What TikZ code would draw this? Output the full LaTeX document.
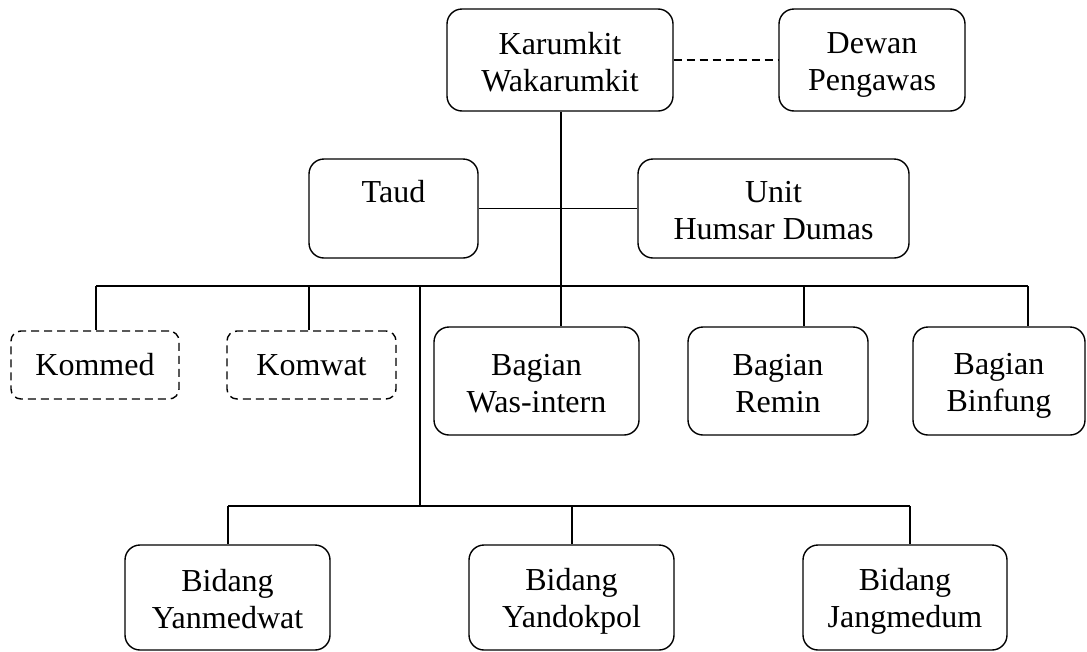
\documentclass[tikz,border=0pt]{standalone}
\usepackage{fontspec}
\setmainfont{Liberation Serif}
\usetikzlibrary{calc}
\newcommand\lnstrut{\rule[-5pt]{0pt}{35pt}}
\tikzset{
  box/.style={draw, fill=white, rounded corners=15pt, line width=1.4pt, inner sep=0pt,
    align=center, font=\fontsize{32}{37}\selectfont},
  dbox/.style={box, rounded corners=10pt, dash pattern=on 8pt off 5pt},
  conn/.style={line width=1.4pt},
  dconn/.style={line width=1.4pt, dash pattern=on 8pt off 5pt}
}
\begin{document}
\begin{tikzpicture}[x=1pt,y=-1pt]
\path[use as bounding box] (0,0) rectangle (1087,651);

% nodes
\node[box, minimum width=226, minimum height=102] (kar) at (560,60) {\lnstrut Karumkit\\\lnstrut Wakarumkit};
\node[box, minimum width=186, minimum height=102] (dew) at (872,60) {\lnstrut Dewan\\\lnstrut Pengawas};
\node[box, minimum width=169, minimum height=99] (taud) at (393.5,208.5) {\lnstrut Taud\\\lnstrut};
\node[box, minimum width=271, minimum height=99] (unit) at (773.5,208.5) {\lnstrut Unit\\\lnstrut Humsar Dumas};
\node[dbox, minimum width=168, minimum height=68] (kommed) at (95,365) {Kommed};
\node[dbox, minimum width=169, minimum height=68] (komwat) at (311.5,365) {Komwat};
\node[box, minimum width=205, minimum height=108] (was) at (536.5,381) {\lnstrut Bagian\\\lnstrut Was-intern};
\node[box, minimum width=180, minimum height=108] (remin) at (778,381) {\lnstrut Bagian\\\lnstrut Remin};
\node[box, minimum width=172, minimum height=108] (binf) at (999,381) {\lnstrut Bagian\\\lnstrut Binfung};
\node[box, minimum width=205, minimum height=105] (yanmed) at (227.5,597.5) {\lnstrut Bidang\\\lnstrut Yanmedwat};
\node[box, minimum width=205, minimum height=105] (yandok) at (571.5,597.5) {\lnstrut Bidang\\\lnstrut Yandokpol};
\node[box, minimum width=204, minimum height=105] (jang) at (905,597.5) {\lnstrut Bidang\\\lnstrut Jangmedum};

% junction coordinates
\coordinate (tbl) at (96,286);
\coordinate (tbr) at (1028,286);
\coordinate (dkw) at (309,286);
\coordinate (dre) at (804,286);
\coordinate (trunk) at (561,286);
\coordinate (lv) at (420,286);
\coordinate (lvb) at (420,506);
\coordinate (bbl) at (228,506);
\coordinate (bbr) at (910,506);
\coordinate (dyd) at (572,506);

% connectors
\draw[dconn] (kar.east) -- (dew.west);
\draw[conn] (taud.east) -- (unit.west);
\draw[conn] (kar.south -| trunk) -- (trunk |- was.north);
\draw[conn] (tbl) -- (tbr);
\draw[conn] (tbl) -- (tbl |- kommed.north);
\draw[conn] (dkw) -- (dkw |- komwat.north);
\draw[conn] (dre) -- (dre |- remin.north);
\draw[conn] (tbr) -- (tbr |- binf.north);
\draw[conn] (lv) -- (lvb);
\draw[conn] (bbl) -- (bbr);
\draw[conn] (bbl) -- (bbl |- yanmed.north);
\draw[conn] (dyd) -- (dyd |- yandok.north);
\draw[conn] (bbr) -- (bbr |- jang.north);
\end{tikzpicture}
\end{document}
